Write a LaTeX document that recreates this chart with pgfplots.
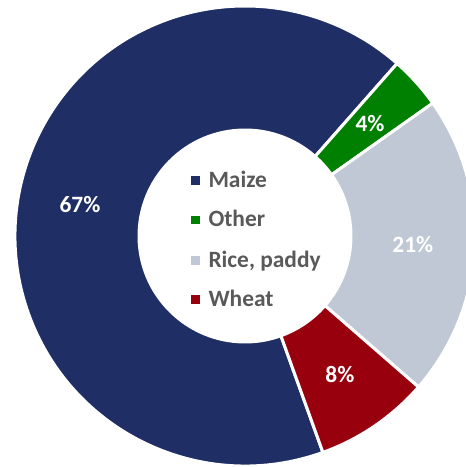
\documentclass[border=0pt]{standalone}
\usepackage{pgfplots}
\pgfplotsset{compat=1.18}
\usepackage{pgfplotstable}
\usepackage{fontspec}
\setmainfont{Carlito}
\definecolor{c0}{RGB}{31,46,101}
\definecolor{c1}{RGB}{0,128,0}
\definecolor{c2}{RGB}{191,200,212}
\definecolor{c3}{RGB}{153,0,13}
\definecolor{legtext}{RGB}{89,89,89}
\pgfplotstableread{
name value
Maize 67.0
Other 3.7
Rice 21.2
Wheat 8.1
}\shares
\begin{document}
\begin{tikzpicture}
\xdef\curang{-70.2}
\foreach \i in {0,1,2,3}{
  \pgfplotstablegetelem{\i}{value}\of\shares
  \let\val\pgfplotsretval
  \pgfmathsetmacro\sweep{3.6*\val}
  \pgfmathsetmacro\endang{\curang-\sweep}
  \pgfmathsetmacro\midang{\curang-\sweep/2}
  \pgfmathtruncatemacro\lab{round(\val)}
  \expandafter\xdef\csname sa\i\endcsname{\curang}
  \expandafter\xdef\csname ea\i\endcsname{\endang}
  \expandafter\xdef\csname ma\i\endcsname{\midang}
  \expandafter\xdef\csname lb\i\endcsname{\lab}
  \xdef\curang{\endang}
}
\begin{axis}[x=1bp, y=1bp, xmin=0, xmax=466, ymin=0, ymax=467,
  hide axis, scale only axis, clip mode=global]
\pgfplotsinvokeforeach{0,1,2,3}{
  \fill[fill=c#1, draw=white, line width=3bp]
    ([shift={(\csname sa#1\endcsname:230bp)}]axis cs:245,231)
      arc[start angle=\csname sa#1\endcsname, end angle=\csname ea#1\endcsname, radius=230bp]
    -- ([shift={(\csname ea#1\endcsname:106bp)}]axis cs:245,231)
      arc[start angle=\csname ea#1\endcsname, end angle=\csname sa#1\endcsname, radius=106bp]
    -- cycle;
}
\pgfplotsinvokeforeach{0,1,2,3}{
  \node[text=white, font=\fontsize{23.5}{28}\selectfont\bfseries]
    at ([shift={(\csname ma#1\endcsname:168bp)}]axis cs:245,231) {\csname lb#1\endcsname\%};
}
% legend inside the hole
\fill[c0] (axis cs:190.7,290.8) rectangle (axis cs:199.9,282.4);
\fill[c1] (axis cs:190.7,251.0) rectangle (axis cs:199.9,242.6);
\fill[c2] (axis cs:190.7,211.0) rectangle (axis cs:199.9,202.2);
\fill[c3] (axis cs:190.7,172.0) rectangle (axis cs:199.9,163.2);
\begin{scope}[every node/.style={anchor=base west, inner sep=0pt, text=legtext,
    font=\fontsize{23.5}{28}\selectfont\bfseries}]
\node at (axis cs:208.3,279.7) {Maize};
\node at (axis cs:208.3,240.3) {Other};
\node at (axis cs:208.3,199.7) {Rice, paddy};
\node at (axis cs:208.3,160.3) {Wheat};
\end{scope}
\end{axis}
\end{tikzpicture}
\end{document}
